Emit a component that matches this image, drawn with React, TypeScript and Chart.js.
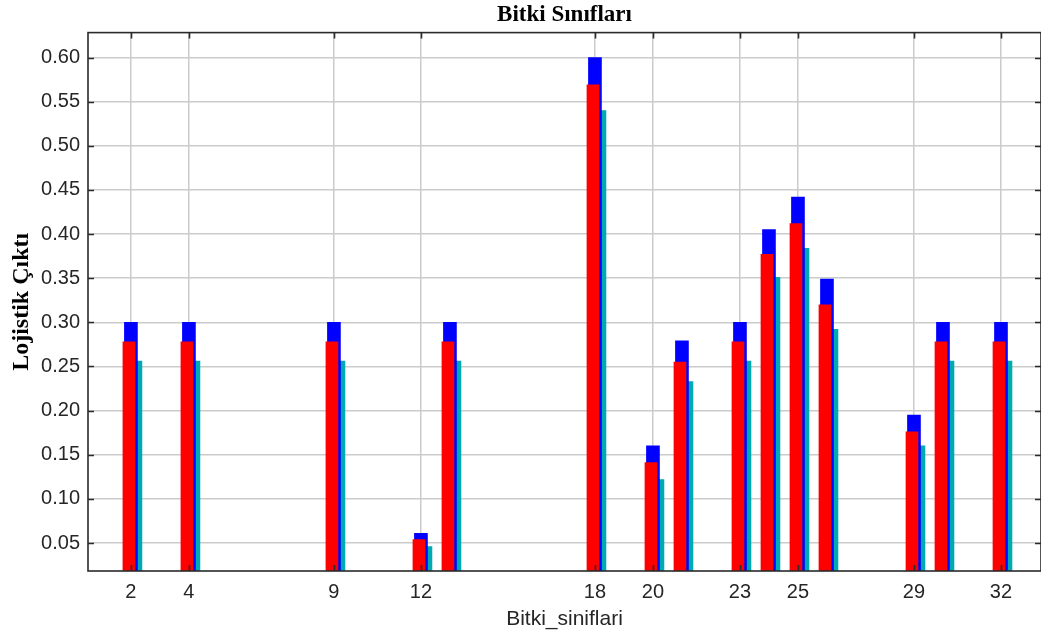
import React, { useEffect, useRef } from 'react';
import { Chart, registerables } from 'chart.js';

Chart.register(...registerables);

// ---- data ----
const classes = [2, 4, 9, 12, 13, 18, 20, 21, 23, 24, 25, 26, 29, 30, 32];
const blueValues = [0.30, 0.30, 0.30, 0.061, 0.30, 0.60, 0.160, 0.279, 0.30, 0.405, 0.442, 0.349, 0.195, 0.30, 0.30];
const redValues = [0.278, 0.278, 0.278, 0.054, 0.278, 0.569, 0.141, 0.255, 0.278, 0.377, 0.412, 0.320, 0.176, 0.278, 0.278];
const cyanValues = [0.256, 0.256, 0.256, 0.046, 0.256, 0.540, 0.122, 0.233, 0.256, 0.351, 0.384, 0.292, 0.160, 0.256, 0.256];
const xTickValues = [2, 4, 9, 12, 18, 20, 23, 25, 29, 32];
const yTickValues = [0.05, 0.10, 0.15, 0.20, 0.25, 0.30, 0.35, 0.40, 0.45, 0.50, 0.55, 0.60];
const titleText = 'Bitki Sınıfları';
const xAxisTitle = 'Bitki_siniflari';
const yAxisTitle = 'Lojistik Çıktı';

const barOffsetPlugin = {
  id: 'barOffset',
  afterDatasetsUpdate(chart: any) {
    chart.data.datasets.forEach((ds: any, i: number) => {
      const meta = chart.getDatasetMeta(i);
      const off = ds.pixelOffset || 0;
      meta.data.forEach((el: any) => {
        el.x += off;
      });
    });
  },
};

const framePlugin = {
  id: 'frame',
  afterDraw(chart: any) {
    const { ctx, chartArea: a, scales } = chart;
    ctx.save();
    ctx.strokeStyle = '#2a2a2a';
    ctx.lineWidth = 1.6;
    ctx.strokeRect(a.left, a.top, a.right - a.left, a.bottom - a.top);
    const len = 6;
    ctx.beginPath();
    xTickValues.forEach((v) => {
      const px = Math.round(scales.x.getPixelForValue(v)) + 0.5;
      ctx.moveTo(px, a.top);
      ctx.lineTo(px, a.top + len);
      ctx.moveTo(px, a.bottom);
      ctx.lineTo(px, a.bottom - len);
    });
    yTickValues.forEach((v) => {
      const py = Math.round(scales.y.getPixelForValue(v)) + 0.5;
      ctx.moveTo(a.left, py);
      ctx.lineTo(a.left + len, py);
      ctx.moveTo(a.right, py);
      ctx.lineTo(a.right - len, py);
    });
    ctx.stroke();
    ctx.restore();
  },
};

export default function App() {
  const ref = useRef<HTMLCanvasElement | null>(null);

  useEffect(() => {
    if (!ref.current) return;
    const mk = (vals: number[]) => classes.map((x, i) => ({ x, y: vals[i] }));
    const chart = new Chart(ref.current, {
      type: 'bar',
      data: {
        datasets: [
          {
            label: 'red',
            data: mk(redValues),
            backgroundColor: '#ff0000',
            barThickness: 12,
            grouped: false,
            pixelOffset: -2,
          } as any,
          {
            label: 'blue',
            data: mk(blueValues),
            backgroundColor: '#0000ff',
            barThickness: 13,
            grouped: false,
            pixelOffset: 0,
          } as any,
          {
            label: 'cyan',
            data: mk(cyanValues),
            backgroundColor: '#00aab2',
            barThickness: 6,
            grouped: false,
            pixelOffset: 8,
          } as any,
        ],
      },
      options: {
        responsive: false,
        animation: false,
        layout: { padding: { left: 0, right: 0, top: 0, bottom: 0 } },
        plugins: {
          legend: { display: false },
          tooltip: { enabled: false },
          title: {
            display: true,
            text: titleText,
            fullSize: false,
            color: '#000',
            font: { family: 'Liberation Serif', size: 23, weight: 'bold' },
            padding: { top: 1, bottom: 4 },
          },
        },
        scales: {
          x: {
            type: 'linear',
            min: 0.52,
            max: 33.38,
            offset: false,
            grid: { color: '#cbcbcb', lineWidth: 1.5, drawTicks: false, offset: false },
            border: { display: false },
            afterBuildTicks: (s: any) => {
              s.ticks = xTickValues.map((v) => ({ value: v }));
            },
            ticks: {
              autoSkip: false,
              maxRotation: 0,
              padding: 9,
              color: '#262626',
              font: { family: 'Liberation Sans', size: 20 },
              callback: (v: any) => String(v),
            },
            title: {
              display: true,
              text: xAxisTitle,
              color: '#262626',
              font: { family: 'Liberation Sans', size: 21 },
              padding: { top: 0, bottom: 8 },
            },
            afterFit: (s: any) => {
              s.height = 69;
            },
          },
          y: {
            type: 'linear',
            min: 0.0183,
            max: 0.6283,
            grid: { color: '#cbcbcb', lineWidth: 1.5, drawTicks: false },
            border: { display: false },
            afterBuildTicks: (s: any) => {
              s.ticks = yTickValues.map((v) => ({ value: v }));
            },
            ticks: {
              autoSkip: false,
              padding: 8,
              color: '#262626',
              font: { family: 'Liberation Sans', size: 20 },
              callback: (v: any) => Number(v).toFixed(2),
            },
            title: {
              display: true,
              text: yAxisTitle,
              color: '#000',
              font: { family: 'Liberation Serif', size: 24, weight: 'bold' },
              padding: { top: 7, bottom: 0 },
            },
            afterFit: (s: any) => {
              s.width = 88;
            },
          },
        },
      } as any,
      plugins: [barOffsetPlugin, framePlugin],
    });
    return () => chart.destroy();
  }, []);

  return (
    <div style={{ position: 'fixed', left: 0, top: 0, width: 1041, height: 640, background: '#fff' }}>
      <canvas ref={ref} width={1041} height={640} style={{ display: 'block', width: 1041, height: 640 }} />
    </div>
  );
}
